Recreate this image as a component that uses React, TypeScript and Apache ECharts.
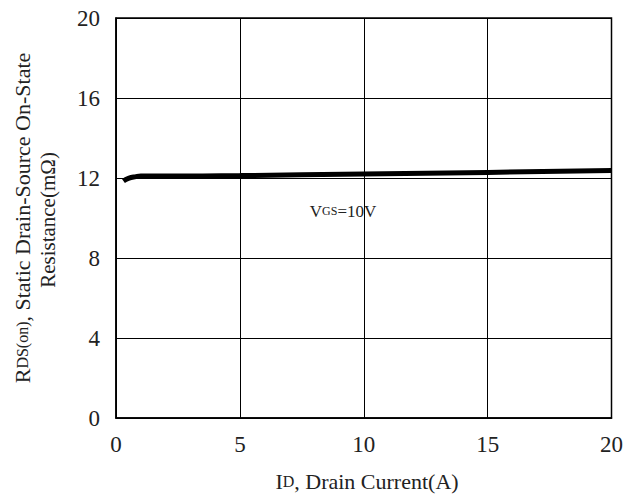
import React, { useEffect, useRef } from "react";
import * as echarts from "echarts";

const currentA = [0.3, 0.5, 0.8, 1, 1.5, 2, 5, 10, 15, 20];
const resistance = [11.85, 11.98, 12.07, 12.1, 12.1, 12.1, 12.12, 12.2, 12.28, 12.37];
const xTicks = [0, 5, 10, 15, 20];
const yTicks = [0, 4, 8, 12, 16, 20];

const FONT = "'Liberation Serif', 'DejaVu Serif', serif";

export default function App() {
  const ref = useRef<HTMLDivElement>(null);
  useEffect(() => {
    const chart = echarts.init(ref.current!, null, { renderer: "svg" });
    const G = { left: 116, top: 18, right: 13, bottom: 79 };
    chart.setOption({
      animation: false,
      backgroundColor: "#ffffff",
      grid: { ...G, show: true, borderColor: "#000", borderWidth: 1.5, backgroundColor: "transparent" },
      xAxis: {
        type: "value",
        min: xTicks[0],
        max: xTicks[xTicks.length - 1],
        interval: 5,
        axisLine: { show: true, lineStyle: { color: "#000", width: 1.5 } },
        axisTick: { show: false },
        splitLine: { show: true, lineStyle: { color: "#000", width: 1 } },
        axisLabel: { color: "#222", fontFamily: FONT, fontSize: 23, margin: 15 },
      },
      yAxis: {
        type: "value",
        min: yTicks[0],
        max: yTicks[yTicks.length - 1],
        interval: 4,
        axisLine: { show: true, lineStyle: { color: "#000", width: 1.5 } },
        axisTick: { show: false },
        splitLine: { show: true, lineStyle: { color: "#000", width: 1 } },
        axisLabel: { color: "#222", fontFamily: FONT, fontSize: 23, margin: 16 },
      },
      graphic: [
        {
          type: "text",
          x: 367,
          y: 481,
          style: {
            text: "{b|I}{s|D}{b|, Drain Current(A)}",
            align: "center",
            verticalAlign: "middle",
            rich: {
              b: { fontFamily: FONT, fontSize: 22, fill: "#222" },
              s: { fontFamily: FONT, fontSize: 16, fill: "#222" },
            },
          },
        },
        {
          type: "text",
          x: 22,
          y: 218,
          rotation: Math.PI / 2,
          style: {
            text: "{b|R}{s|DS(on)}{b|, Static Drain-Source On-State}",
            align: "center",
            verticalAlign: "middle",
            rich: {
              b: { fontFamily: FONT, fontSize: 22, fill: "#222" },
              s: { fontFamily: FONT, fontSize: 16, fill: "#222" },
            },
          },
        },
        {
          type: "text",
          x: 48,
          y: 220,
          rotation: Math.PI / 2,
          style: {
            text: "Resistance(m\u03A9)",
            align: "center",
            verticalAlign: "middle",
            fontFamily: FONT,
            fontSize: 21,
            fill: "#222",
          },
        },
        {
          type: "text",
          x: 343,
          y: 211,
          style: {
            text: "{b|V}{s|GS}{b|=10V}",
            align: "center",
            verticalAlign: "middle",
            rich: {
              b: { fontFamily: FONT, fontSize: 17, fill: "#222" },
              s: { fontFamily: FONT, fontSize: 12, fill: "#222" },
            },
          },
        },
      ],
      series: [
        {
          type: "line",
          data: currentA.map((x, i) => [x, resistance[i]]),
          smooth: true,
          showSymbol: false,
          lineStyle: { color: "#000", width: 5 },
        },
      ],
    });
    return () => chart.dispose();
  }, []);
  return <div ref={ref} style={{ width: 626, height: 497, position: "absolute", left: 0, top: 0 }} />;
}
